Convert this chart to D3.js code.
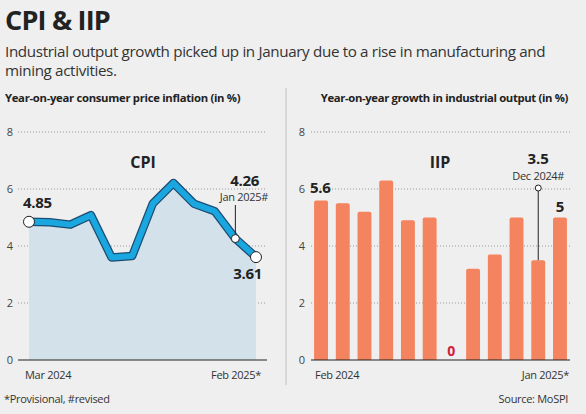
<!DOCTYPE html>
<html>
<head>
<meta charset="utf-8">
<script src="https://cdn.jsdelivr.net/npm/d3@7"></script>
<style>
  body { margin: 0; background: #efefef; }
  svg { display: block; font-family: "Open Sans", sans-serif; }
</style>
</head>
<body>
<script>
// data
var cpiMonths = ["Mar 2024", "Apr 2024", "May 2024", "Jun 2024", "Jul 2024", "Aug 2024",
                 "Sep 2024", "Oct 2024", "Nov 2024", "Dec 2024", "Jan 2025", "Feb 2025"];
var cpiValues = [4.85, 4.83, 4.75, 5.08, 3.6, 3.65, 5.49, 6.21, 5.48, 5.22, 4.26, 3.61];

var iipMonths = ["Feb 2024", "Mar 2024", "Apr 2024", "May 2024", "Jun 2024", "Jul 2024",
                 "Aug 2024", "Sep 2024", "Oct 2024", "Nov 2024", "Dec 2024", "Jan 2025"];
var iipValues = [5.6, 5.5, 5.2, 6.3, 4.9, 5.0, 0, 3.2, 3.7, 5.0, 3.5, 5.0];

var yTicks = [0, 2, 4, 6, 8];

var width = 586, height = 414;

var svg = d3.select("body").append("svg")
    .attr("width", width)
    .attr("height", height);

svg.append("rect").attr("width", width).attr("height", height).attr("fill", "#efefef");

// headline
svg.append("text").attr("x", 5).attr("y", 30)
    .attr("font-size", 27).attr("font-weight", 700).attr("fill", "#222")
    .attr("letter-spacing", -0.8)
    .text("CPI & IIP");
svg.append("text").attr("x", 5).attr("y", 57)
    .attr("font-size", 15.2).attr("fill", "#333").attr("letter-spacing", -0.35)
    .text("Industrial output growth picked up in January due to a rise in manufacturing and");
svg.append("text").attr("x", 5).attr("y", 76)
    .attr("font-size", 15.2).attr("fill", "#333").attr("letter-spacing", -0.35)
    .text("mining activities.");

// divider between panels
svg.append("line").attr("x1", 286).attr("x2", 286).attr("y1", 88).attr("y2", 385)
    .attr("stroke", "#d8d8d8").attr("stroke-width", 2);

// shared y scale
var y = d3.scaleLinear().domain([0, 8]).range([360, 132]);

function drawGrid(g, x0, x1, labelX) {
  g.selectAll(".grid").data(yTicks.filter(function(d){ return d > 0; })).enter()
    .append("line")
    .attr("x1", x0).attr("x2", x1)
    .attr("y1", function(d){ return y(d); }).attr("y2", function(d){ return y(d); })
    .attr("stroke", "#999").attr("stroke-width", 1).attr("stroke-dasharray", "1,2");
  g.selectAll(".tick").data(yTicks).enter()
    .append("text")
    .attr("x", labelX).attr("y", function(d){ return y(d) + 4; })
    .attr("text-anchor", "middle")
    .attr("font-size", 11).attr("fill", "#444")
    .text(function(d){ return d; });
}

// ---------- left panel: CPI ----------
var left = svg.append("g");

left.append("text").attr("x", 5).attr("y", 102)
    .attr("font-size", 11.3).attr("font-weight", 700).attr("fill", "#222").attr("letter-spacing", -0.3)
    .text("Year-on-year consumer price inflation (in %)");

drawGrid(left, 18, 267, 10);

var xc = d3.scalePoint().domain(cpiMonths).range([29, 256]);

var area = d3.area()
    .x(function(d, i){ return xc(cpiMonths[i]); })
    .y0(y(0))
    .y1(function(d){ return y(d); });

left.append("path").datum(cpiValues)
    .attr("d", area)
    .attr("fill", "#d3e2ea");

var line = d3.line()
    .x(function(d, i){ return xc(cpiMonths[i]); })
    .y(function(d){ return y(d); });

left.append("path").datum(cpiValues)
    .attr("d", line).attr("fill", "none")
    .attr("stroke", "#1d4c72").attr("stroke-width", 8.5).attr("stroke-linejoin", "round");
left.append("path").datum(cpiValues)
    .attr("d", line).attr("fill", "none")
    .attr("stroke", "#1aa6df").attr("stroke-width", 6).attr("stroke-linejoin", "round");

left.append("line").attr("x1", 18).attr("x2", 267).attr("y1", y(0)).attr("y2", y(0))
    .attr("stroke", "#222").attr("stroke-width", 1.2);

left.append("text").attr("x", 143).attr("y", 168)
    .attr("text-anchor", "middle").attr("font-size", 16).attr("font-weight", 700).attr("fill", "#222")
    .text("CPI");

// Jan 2025 leader line
var janX = xc("Jan 2025");
left.append("line").attr("x1", janX).attr("x2", janX)
    .attr("y1", 205).attr("y2", y(cpiValues[10]))
    .attr("stroke", "#222").attr("stroke-width", 1);

var cpiMarks = [0, 10, 11];
left.selectAll(".dot").data(cpiMarks).enter()
    .append("circle")
    .attr("cx", function(i){ return xc(cpiMonths[i]); })
    .attr("cy", function(i){ return y(cpiValues[i]); })
    .attr("r", function(i){ return i === 10 ? 4 : 5.5; })
    .attr("fill", "#fff").attr("stroke", "#222").attr("stroke-width", 1);

left.append("text").attr("x", 23).attr("y", 208)
    .attr("font-size", 15).attr("font-weight", 700).attr("fill", "#222").attr("letter-spacing", -0.3)
    .text(d3.format(".2f")(cpiValues[0]));
left.append("text").attr("x", 259).attr("y", 186)
    .attr("text-anchor", "end")
    .attr("font-size", 15).attr("font-weight", 700).attr("fill", "#222").attr("letter-spacing", -0.3)
    .text(d3.format(".2f")(cpiValues[10]));
left.append("text").attr("x", 268).attr("y", 201)
    .attr("text-anchor", "end").attr("font-size", 11).attr("fill", "#333").attr("letter-spacing", -0.3)
    .text("Jan 2025#");
left.append("text").attr("x", 262).attr("y", 279)
    .attr("text-anchor", "end")
    .attr("font-size", 15).attr("font-weight", 700).attr("fill", "#222").attr("letter-spacing", -0.3)
    .text(d3.format(".2f")(cpiValues[11]));

left.append("text").attr("x", 25).attr("y", 379)
    .attr("font-size", 11).attr("fill", "#333").attr("letter-spacing", -0.3)
    .text(cpiMonths[0]);
left.append("text").attr("x", 261).attr("y", 379)
    .attr("text-anchor", "end").attr("font-size", 11).attr("fill", "#333").attr("letter-spacing", -0.3)
    .text(cpiMonths[11] + "*");

// ---------- right panel: IIP ----------
var right = svg.append("g");

right.append("text").attr("x", 568).attr("y", 102)
    .attr("text-anchor", "end")
    .attr("font-size", 11.3).attr("font-weight", 700).attr("fill", "#222").attr("letter-spacing", -0.35)
    .text("Year-on-year growth in industrial output (in %)");

drawGrid(right, 311, 570, 302);

var xb = d3.scaleBand().domain(iipMonths).range([313, 568]).paddingInner(0.36).paddingOuter(0.05);

right.selectAll(".bar").data(iipValues).enter()
    .append("path")
    .attr("d", function(d, i){
      var x0 = xb(iipMonths[i]), w = xb.bandwidth(), top = y(d), bot = y(0), r = 2;
      if (d <= 0) return "";
      return "M" + x0 + "," + bot + "V" + (top + r) + "Q" + x0 + "," + top + " " + (x0 + r) + "," + top +
             "H" + (x0 + w - r) + "Q" + (x0 + w) + "," + top + " " + (x0 + w) + "," + (top + r) + "V" + bot + "Z";
    })
    .attr("fill", "#f4835f");

right.append("line").attr("x1", 311).attr("x2", 570).attr("y1", y(0)).attr("y2", y(0))
    .attr("stroke", "#222").attr("stroke-width", 1.2);

right.append("text").attr("x", 440).attr("y", 168)
    .attr("text-anchor", "middle").attr("font-size", 16).attr("font-weight", 700).attr("fill", "#222")
    .text("IIP");

function bx(i) { return xb(iipMonths[i]) + xb.bandwidth() / 2; }

right.append("text").attr("x", 310).attr("y", 193)
    .attr("font-size", 15).attr("font-weight", 700).attr("fill", "#222").attr("letter-spacing", -0.3)
    .text(d3.format(".1f")(iipValues[0]));
right.append("text").attr("x", bx(11)).attr("y", 212)
    .attr("text-anchor", "middle")
    .attr("font-size", 15).attr("font-weight", 700).attr("fill", "#222")
    .text(iipValues[11]);
right.append("text").attr("x", bx(6)).attr("y", 356)
    .attr("text-anchor", "middle")
    .attr("font-size", 14).attr("font-weight", 700).attr("fill", "#d0203a")
    .text(iipValues[6]);

// Dec 2024 callout
right.append("line").attr("x1", bx(10)).attr("x2", bx(10))
    .attr("y1", 188).attr("y2", y(iipValues[10]))
    .attr("stroke", "#222").attr("stroke-width", 1);
right.append("circle").attr("cx", bx(10)).attr("cy", 188).attr("r", 3)
    .attr("fill", "#fff").attr("stroke", "#222").attr("stroke-width", 1);
right.append("text").attr("x", bx(10)).attr("y", 164)
    .attr("text-anchor", "middle")
    .attr("font-size", 15).attr("font-weight", 700).attr("fill", "#222")
    .text(d3.format(".1f")(iipValues[10]));
right.append("text").attr("x", bx(10)).attr("y", 180)
    .attr("text-anchor", "middle").attr("font-size", 11).attr("fill", "#333").attr("letter-spacing", -0.3)
    .text("Dec 2024#");

right.append("text").attr("x", 315).attr("y", 379)
    .attr("font-size", 11).attr("fill", "#333").attr("letter-spacing", -0.3)
    .text(iipMonths[0]);
right.append("text").attr("x", 569).attr("y", 379)
    .attr("text-anchor", "end").attr("font-size", 11).attr("fill", "#333").attr("letter-spacing", -0.3)
    .text(iipMonths[11] + "*");

// footer
svg.append("text").attr("x", 4).attr("y", 403)
    .attr("font-size", 11).attr("fill", "#333").attr("letter-spacing", -0.3)
    .text("*Provisional, #revised");
svg.append("text").attr("x", 568).attr("y", 403)
    .attr("text-anchor", "end").attr("font-size", 11).attr("fill", "#333").attr("letter-spacing", -0.3)
    .text("Source: MoSPI");
</script>
</body>
</html>
